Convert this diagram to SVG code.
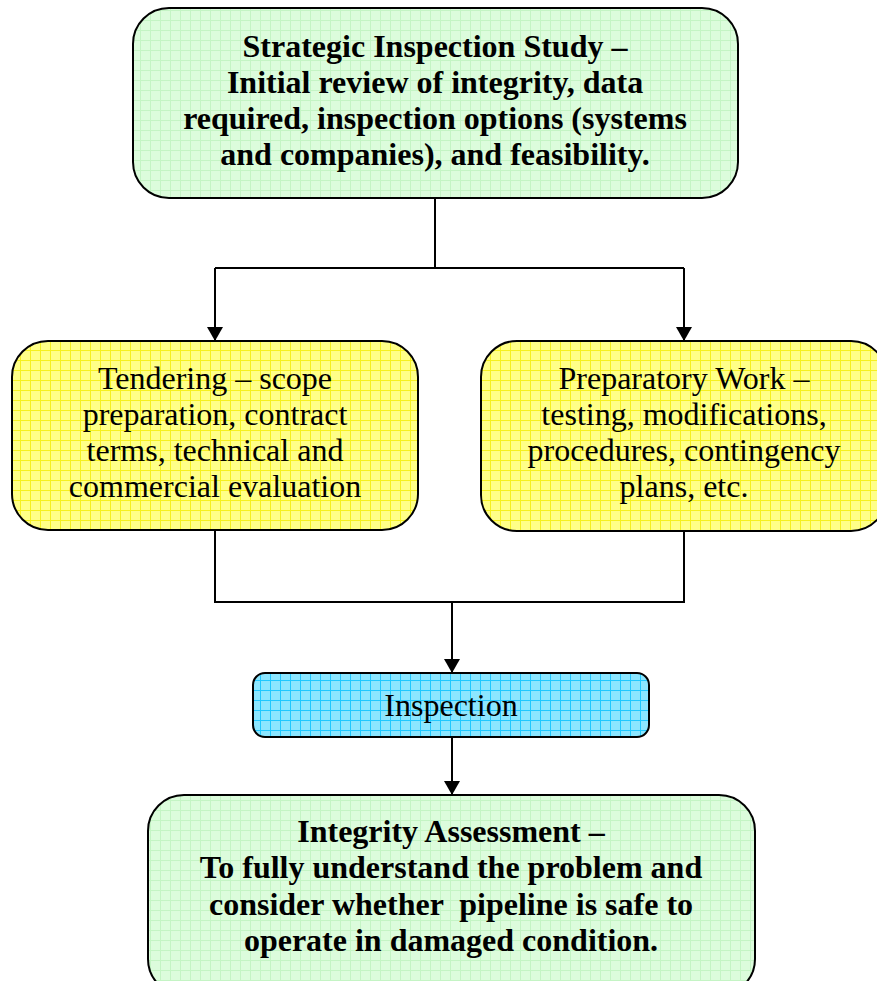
<svg xmlns="http://www.w3.org/2000/svg" width="877" height="981" viewBox="0 0 877 981">
<defs>
<pattern id="gG" width="10" height="10" patternUnits="userSpaceOnUse">
<rect width="10" height="10" fill="#dcfcdc"/>
<path d="M0 0.5H10M0.5 0V10" stroke="#c4f4c4" stroke-width="1"/>
</pattern>
<pattern id="gY" width="10" height="10" patternUnits="userSpaceOnUse">
<rect width="10" height="10" fill="#ffff88"/>
<path d="M0 0.5H10M0.5 0V10" stroke="#f5f020" stroke-width="1"/>
</pattern>
<pattern id="gB" width="10" height="10" patternUnits="userSpaceOnUse">
<rect width="10" height="10" fill="#8ce6ff"/>
<path d="M0 0.5H10M0.5 0V10" stroke="#20c8ff" stroke-width="1"/>
</pattern>
<marker id="ah" viewBox="0 0 14 16" refX="14" refY="8" markerWidth="14" markerHeight="16" markerUnits="userSpaceOnUse" orient="auto">
<path d="M0 0L14 8L0 16Z" fill="#000"/>
</marker>
<style>
.box{stroke:#000;stroke-width:2}
.t{font-family:"Liberation Serif",serif;font-size:32px;fill:#000;text-anchor:middle;white-space:pre}
.b{font-weight:bold}
.c{fill:none;stroke:#000;stroke-width:2}
</style>
</defs>
<g id="connectors">
<path class="c" d="M435 198V268"/>
<path class="c" d="M215 268H684"/>
<path class="c" d="M215 268V341" marker-end="url(#ah)"/>
<path class="c" d="M684 268V341" marker-end="url(#ah)"/>
<path class="c" d="M215 530V602H684V531"/>
<path class="c" d="M452 602V673" marker-end="url(#ah)"/>
<path class="c" d="M452 737V795" marker-end="url(#ah)"/>
</g>
<g id="strategic">
<rect class="box" x="133" y="8" width="605" height="190" rx="36" fill="url(#gG)"/>
<text class="t b" x="435" y="57">Strategic Inspection Study –</text>
<text class="t b" x="435" y="93">Initial review of integrity, data</text>
<text class="t b" x="435" y="129">required, inspection options (systems</text>
<text class="t b" x="435" y="165">and companies), and feasibility.</text>
</g>
<g id="tendering">
<rect class="box" x="12" y="341" width="406" height="189" rx="36" fill="url(#gY)"/>
<text class="t" x="215" y="389">Tendering – scope</text>
<text class="t" x="215" y="425">preparation, contract</text>
<text class="t" x="215" y="461">terms, technical and</text>
<text class="t" x="215" y="497">commercial evaluation</text>
</g>
<g id="preparatory">
<rect class="box" x="481" y="341" width="406" height="190" rx="36" fill="url(#gY)"/>
<text class="t" x="684" y="389">Preparatory Work –</text>
<text class="t" x="684" y="425">testing, modifications,</text>
<text class="t" x="684" y="461">procedures, contingency</text>
<text class="t" x="684" y="497">plans, etc.</text>
</g>
<g id="inspection">
<rect class="box" x="253" y="673" width="396" height="64" rx="12" fill="url(#gB)"/>
<text class="t" x="451" y="716">Inspection</text>
</g>
<g id="integrity">
<rect class="box" x="148" y="795" width="607" height="200" rx="36" fill="url(#gG)"/>
<text class="t b" x="451" y="842">Integrity Assessment –</text>
<text class="t b" x="451" y="878">To fully understand the problem and</text>
<text class="t b" x="451" y="915">consider whether  pipeline is safe to</text>
<text class="t b" x="451" y="951">operate in damaged condition.</text>
</g>
</svg>
